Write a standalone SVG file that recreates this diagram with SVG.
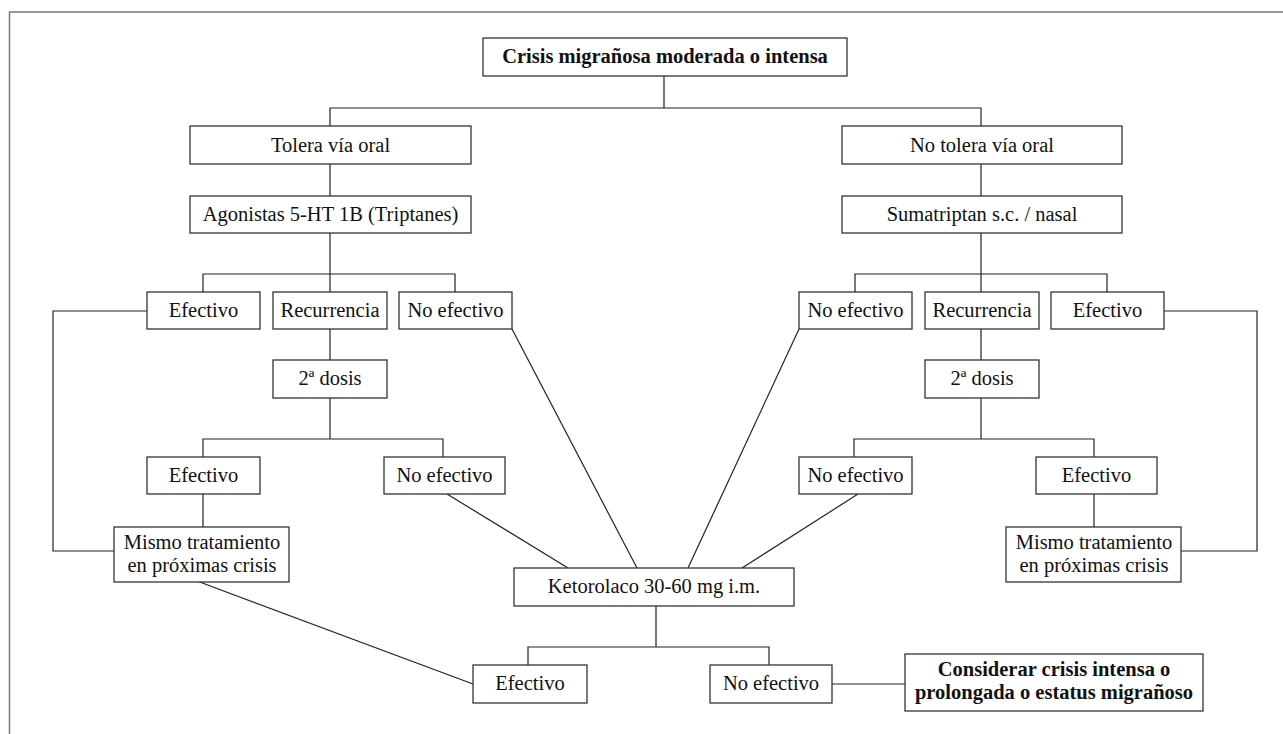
<svg xmlns="http://www.w3.org/2000/svg" width="1283" height="734" viewBox="0 0 1283 734">
<style>
rect{fill:#fff;stroke:#333;stroke-width:1.3}
text{font-family:"Liberation Serif","Times New Roman",serif;font-size:20.5px;fill:#111;text-anchor:middle}
.b{font-weight:bold;font-size:20.5px}
.m{font-size:20.5px}
#connectors line,#connectors polyline{stroke:#222;stroke-width:1.2;fill:none}
.frame{stroke:#777;stroke-width:1.5;fill:none}
</style>
<rect x="0" y="0" width="1283" height="734" style="fill:#fff;stroke:none"/>
<polyline class="frame" points="1283,12 9.5,12 9.5,734"/>
<g id="connectors">
<line x1="664" y1="76" x2="664" y2="108"/>
<polyline points="330,126 330,108 981,108 981,126"/>
<line x1="330" y1="164" x2="330" y2="196"/>
<line x1="981" y1="164" x2="981" y2="196"/>
<line x1="330" y1="233" x2="330" y2="292"/>
<polyline points="203,292 203,274 455,274 455,292"/>
<line x1="981" y1="233" x2="981" y2="292"/>
<polyline points="855,292 855,274 1107,274 1107,292"/>
<polyline points="147,311 53,311 53,551 114,551"/>
<polyline points="1164,311 1257,311 1257,551 1181,551"/>
<line x1="330" y1="329" x2="330" y2="360"/>
<line x1="330" y1="398" x2="330" y2="439"/>
<polyline points="203,457 203,439 443,439 443,457"/>
<line x1="981" y1="329" x2="981" y2="360"/>
<line x1="981" y1="398" x2="981" y2="439"/>
<polyline points="854,457 854,439 1094,439 1094,457"/>
<line x1="203" y1="494" x2="203" y2="527"/>
<line x1="1094" y1="494" x2="1094" y2="527"/>
<line x1="512" y1="329" x2="637" y2="568"/>
<line x1="799" y1="329" x2="688" y2="568"/>
<line x1="447" y1="494" x2="568" y2="568"/>
<line x1="858" y1="494" x2="742" y2="568"/>
<line x1="656" y1="606" x2="656" y2="647"/>
<polyline points="528,665 528,647 769,647 769,665"/>
<line x1="197" y1="581" x2="473" y2="684"/>
<line x1="832" y1="684" x2="905" y2="684"/>
</g>
<g id="n-crisis"><rect x="483" y="38" width="364" height="38"/><text class="b" x="665" y="63">Crisis migrañosa moderada o intensa</text></g>
<g id="n-tolera"><rect x="190" y="126" width="281" height="38"/><text x="330.5" y="152">Tolera vía oral</text></g>
<g id="n-notolera"><rect x="842" y="126" width="280" height="38"/><text x="982" y="152">No tolera vía oral</text></g>
<g id="n-agonistas"><rect x="190" y="196" width="281" height="37"/><text x="330.5" y="221">Agonistas 5-HT 1B (Triptanes)</text></g>
<g id="n-sumatriptan"><rect x="842" y="196" width="280" height="37"/><text x="982" y="221">Sumatriptan s.c. / nasal</text></g>
<g id="n-efectivo-l1"><rect x="147" y="292" width="113" height="37"/><text x="203.5" y="317">Efectivo</text></g>
<g id="n-recurrencia-l"><rect x="273" y="292" width="114" height="37"/><text x="330" y="317">Recurrencia</text></g>
<g id="n-noefectivo-l1"><rect x="399" y="292" width="113" height="37"/><text x="455.5" y="317">No efectivo</text></g>
<g id="n-noefectivo-r1"><rect x="799" y="292" width="113" height="37"/><text x="855.5" y="317">No efectivo</text></g>
<g id="n-recurrencia-r"><rect x="925" y="292" width="114" height="37"/><text x="982" y="317">Recurrencia</text></g>
<g id="n-efectivo-r1"><rect x="1051" y="292" width="113" height="37"/><text x="1107.5" y="317">Efectivo</text></g>
<g id="n-dosis-l"><rect x="273" y="360" width="114" height="38"/><text x="330" y="385">2ª dosis</text></g>
<g id="n-dosis-r"><rect x="925" y="360" width="114" height="38"/><text x="982" y="385">2ª dosis</text></g>
<g id="n-efectivo-l2"><rect x="147" y="457" width="113" height="37"/><text x="203.5" y="482">Efectivo</text></g>
<g id="n-noefectivo-l2"><rect x="384" y="457" width="121" height="37"/><text x="444.5" y="482">No efectivo</text></g>
<g id="n-noefectivo-r2"><rect x="799" y="457" width="113" height="37"/><text x="855.5" y="482">No efectivo</text></g>
<g id="n-efectivo-r2"><rect x="1036" y="457" width="121" height="37"/><text x="1096.5" y="482">Efectivo</text></g>
<g id="n-mismo-l"><rect x="114" y="527" width="175" height="55"/><text class="m" x="202" y="549">Mismo tratamiento</text><text class="m" x="202" y="572">en próximas crisis</text></g>
<g id="n-mismo-r"><rect x="1006" y="527" width="175" height="55"/><text class="m" x="1094" y="549">Mismo tratamiento</text><text class="m" x="1094" y="572">en próximas crisis</text></g>
<g id="n-ketorolaco"><rect x="514" y="568" width="280" height="38"/><text x="654" y="593">Ketorolaco 30-60 mg i.m.</text></g>
<g id="n-efectivo-k"><rect x="473" y="665" width="114" height="38"/><text x="530" y="690">Efectivo</text></g>
<g id="n-noefectivo-k"><rect x="710" y="665" width="122" height="38"/><text x="771" y="690">No efectivo</text></g>
<g id="n-considerar"><rect x="905" y="654" width="298" height="57"/><text class="b" x="1054" y="676">Considerar crisis intensa o</text><text class="b" x="1054" y="699">prolongada o estatus migrañoso</text></g>
</svg>
